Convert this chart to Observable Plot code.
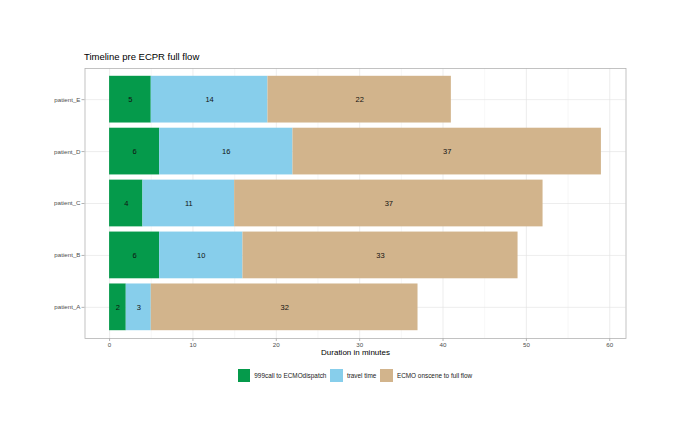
<!DOCTYPE html>
<html>
<head>
<meta charset="utf-8">
<script src="https://cdn.jsdelivr.net/npm/d3@7"></script>
<script src="https://cdn.jsdelivr.net/npm/@observablehq/plot@0.6"></script>
<style>
  body { margin: 0; background: #fff; font-family: "Liberation Sans", Arial, Helvetica, sans-serif; }
  #wrap { width: 680px; height: 436px; position: relative; overflow: hidden; }
  #title { padding: 51px 0 0 84px; font-size: 9.5px; line-height: 12px; height: 12px; color: #000; }
  #legend { display: flex; justify-content: center; align-items: center; margin-top: 6px; padding-left: 30px; font-size: 6.4px; color: #1a1a1a; }
  .item { display: flex; align-items: center; margin: 0 2px; }
  .sw { width: 12.5px; height: 12.5px; margin-right: 4px; }
</style>
</head>
<body>
<div id="wrap">
  <div id="title">Timeline pre ECPR full flow</div>
  <div id="chart"></div>
  <div id="legend"></div>
</div>
<script>
const patients = ["patient_A", "patient_B", "patient_C", "patient_D", "patient_E"];
const phases = ["999call to ECMOdispatch", "travel time", "ECMO onscene to full flow"];
const dispatchTime = [2, 6, 4, 6, 5];
const travelTime = [3, 10, 11, 16, 14];
const onsceneTime = [32, 33, 37, 37, 22];
const colors = ["#059a4b", "#87ceeb", "#d2b48c"];
const xTicks = [0, 10, 20, 30, 40, 50, 60];
const xMinor = [5, 15, 25, 35, 45, 55];

const series = [dispatchTime, travelTime, onsceneTime];
const data = [];
patients.forEach((p, i) => {
  phases.forEach((ph, j) => data.push({patient: p, phase: ph, value: series[j][i]}));
});

const font = "'Liberation Sans', Arial, Helvetica, sans-serif";
const chart = Plot.plot({
  width: 680,
  height: 300,
  marginLeft: 84.5,
  marginRight: 54.5,
  marginTop: 5,
  marginBottom: 25,
  style: {fontFamily: font, background: "white"},
  x: {domain: [-2.95, 61.95], label: null},
  y: {domain: patients.slice().reverse(), paddingInner: 0.1, paddingOuter: 0.15, round: false, label: null},
  color: {domain: phases, range: colors},
  marks: [
    Plot.gridX(xMinor, {stroke: "#ececec", strokeOpacity: 1, strokeWidth: 0.4}),
    Plot.gridX(xTicks, {stroke: "#e0e0e0", strokeOpacity: 1, strokeWidth: 0.6}),
    Plot.gridY({stroke: "#e0e0e0", strokeOpacity: 1, strokeWidth: 0.6}),
    Plot.barX(data, Plot.stackX({x: "value", y: "patient", fill: "phase", order: null})),
    Plot.text(data, Plot.stackX({x: "value", y: "patient", z: "phase", text: "value", order: null, fill: "#111", fontSize: 7.5})),
    Plot.frame({stroke: "#b3b3b3", strokeWidth: 0.8}),
    Plot.axisX(xTicks, {tickSize: 3, tickPadding: 1.5, stroke: "#b3b3b3", fill: "#4d4d4d", fontSize: 6.2, label: null}),
    Plot.axisY({tickSize: 3, tickPadding: 1.5, stroke: "#b3b3b3", fill: "#4d4d4d", fontSize: 6.2, label: null}),
    Plot.text(["Duration in minutes"], {frameAnchor: "bottom", dy: 14, fontSize: 8, fill: "#000", lineAnchor: "middle"})
  ]
});
document.getElementById("chart").appendChild(chart);

const legend = document.getElementById("legend");
phases.forEach((ph, j) => {
  const it = document.createElement("div");
  it.className = "item";
  const sw = document.createElement("div");
  sw.className = "sw";
  sw.style.background = colors[j];
  const lb = document.createElement("span");
  lb.textContent = ph;
  it.appendChild(sw);
  it.appendChild(lb);
  legend.appendChild(it);
});
</script>
</body>
</html>
